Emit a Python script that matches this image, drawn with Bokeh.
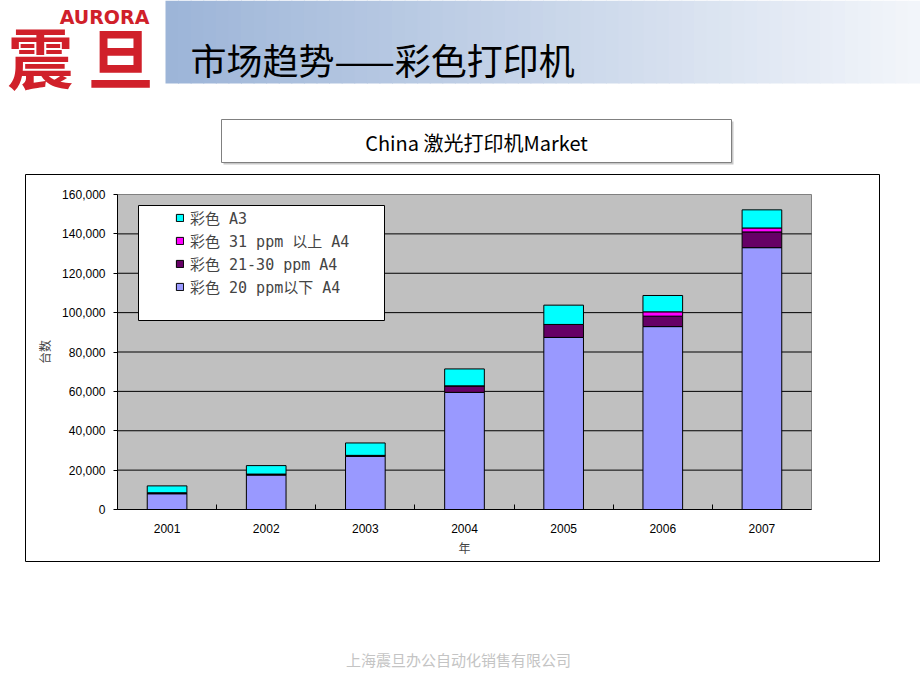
from bokeh.plotting import figure
from bokeh.models import (Range1d, Legend, LegendItem, LinearAxis, FixedTicker,
                          NumeralTickFormatter, ColumnDataSource)
from bokeh.core.properties import value
from bokeh.embed import file_html
from bokeh.resources import INLINE

# ---------------- data ----------------
years = ["2001", "2002", "2003", "2004", "2005", "2006", "2007"]
ppm20_below = [8000, 17500, 27000, 59500, 87400, 92900, 133000]
ppm21_30 = [500, 500, 500, 3300, 6600, 5300, 8000]
ppm31_up = [0, 0, 0, 0, 0, 2200, 2000]
color_a3 = [3500, 4300, 6300, 8600, 9800, 8300, 9200]
series_names = ["彩色 20 ppm以下 A4", "彩色 21-30 ppm A4", "彩色 31 ppm 以上 A4", "彩色 A3"]
series_colors = ["#9999ff", "#660066", "#ff00ff", "#00ffff"]
y_ticks = [0, 20000, 40000, 60000, 80000, 100000, 120000, 140000, 160000]

page_title = "市场趋势——彩色打印机"
chart_title = "China 激光打印机Market"
y_label = "台数"
x_label = "年"
footer = "上海震旦办公自动化销售有限公司"

# ---------------- layout (pixels) ----------------
W, H = 920, 690
PX_L, PX_R, PX_T, PX_B = 117, 811, 194, 509   # plot area in page pixels

n = len(years)
idx = list(range(n))
y_max = y_ticks[-1]
kx = (PX_R - PX_L) / n
ky = (PX_B - PX_T) / y_max

p = figure(width=W, height=H, x_range=Range1d(0, W), y_range=Range1d(H, 0),
           x_axis_location=None, y_axis_location=None, title_location=None,
           min_border=0, output_backend="svg", toolbar_location=None)
p.outline_line_color = None
p.background_fill_color = "white"
p.border_fill_color = "white"
p.grid.grid_line_color = None

p.extra_x_ranges = {"c": Range1d(-0.5 - PX_L / kx, n - 0.5 + (W - PX_R) / kx)}
p.extra_y_ranges = {"c": Range1d(-(H - PX_B) / ky, y_max + PX_T / ky)}
C = dict(x_range_name="c", y_range_name="c")

# ---------------- page decorations (pixel coordinates) ----------------
N = 60
x0, x1 = 165, W
c0, c1 = (157, 181, 216), (242, 245, 250)
lefts, rights, cols = [], [], []
for i in range(N):
    t = i / (N - 1)
    cols.append("#%02x%02x%02x" % tuple(int(round(a + (b - a) * t)) for a, b in zip(c0, c1)))
    lefts.append(x0 + (x1 - x0) * i / N)
    rights.append(x0 + (x1 - x0) * (i + 1) / N + 1)
p.quad(left=lefts, right=rights, top=0, bottom=83, fill_color=cols, line_color=None)

p.text(x=[104], y=[16], text=["AURORA"], text_align="center", text_baseline="middle",
       text_font=value("DejaVu Sans"), text_font_style="bold", text_font_size="19px",
       text_color="#d0202a")
p.text(x=[40, 120], y=[54, 54], text=["震", "旦"], text_align="center", text_baseline="middle",
       text_font=value("Noto Sans CJK SC"), text_font_style="bold", text_font_size="66px",
       text_color="#d0202a")
p.text(x=[190], y=[58], text=[page_title], text_align="left", text_baseline="middle",
       text_font=value("Noto Sans CJK SC"), text_font_size="36px", text_color="#000000")

# chart title box (with faint shadow)
p.quad(left=223, right=733, top=121, bottom=164, fill_color="#c8c8c8", line_color=None)
p.quad(left=221, right=731, top=119, bottom=162, fill_color="white", line_color="#808080")
p.text(x=[476], y=[142], text=[chart_title], text_align="center", text_baseline="middle",
       text_font=value("Noto Sans CJK SC"), text_font_size="20px", text_color="#000000")

# outer chart frame
p.quad(left=25, right=879, top=174, bottom=561, fill_alpha=0, line_color="#000000")

# footer
p.text(x=[458], y=[659], text=[footer], text_align="center", text_baseline="middle",
       text_font=value("Noto Sans CJK SC"), text_font_size="15px", text_color="#c4c4c4")

# ---------------- chart ----------------
p.quad(left=-0.5, right=n - 0.5, bottom=0, top=y_max, fill_color="#c0c0c0",
       line_color="#808080", **C)
p.segment(x0=-0.5, x1=n - 0.5, y0=y_ticks[1:-1], y1=y_ticks[1:-1], line_color="#000000",
          line_width=1, **C)

source = ColumnDataSource(dict(x=idx, s0=ppm20_below, s1=ppm21_30, s2=ppm31_up, s3=color_a3))
rs = p.vbar_stack(["s0", "s1", "s2", "s3"], x="x", width=0.4, source=source,
                  fill_color=series_colors, line_color="#000000", line_width=1, **C)

yax = LinearAxis(fixed_location=-0.5, bounds=(0, y_max),
                 ticker=FixedTicker(ticks=y_ticks, minor_ticks=[]),
                 formatter=NumeralTickFormatter(format="0,0"), **C)
xax = LinearAxis(fixed_location=0, bounds=(-0.5, n - 0.5),
                 ticker=FixedTicker(ticks=idx, minor_ticks=[i + 0.5 for i in range(n - 1)]),
                 major_label_overrides={i: y for i, y in enumerate(years)}, **C)
for ax in (yax, xax):
    ax.axis_line_color = "#000000"
    ax.major_label_text_font = "Liberation Sans"
    ax.major_label_text_font_size = "12px"
    ax.major_label_text_color = "#000000"
    ax.axis_label_text_font = "Noto Sans CJK SC"
    ax.axis_label_text_font_size = "12px"
    ax.axis_label_text_font_style = "normal"
yax.major_tick_in = 0
yax.major_tick_out = 4
yax.minor_tick_line_color = None
yax.major_label_standoff = 8
yax.axis_label = y_label
yax.axis_label_standoff = 6
xax.major_tick_line_color = None
xax.minor_tick_in = 5
xax.minor_tick_out = 0
xax.minor_tick_line_color = "#000000"
xax.major_label_standoff = 8
xax.axis_label = x_label
xax.axis_label_standoff = 3
p.add_layout(yax, "left")
p.add_layout(xax, "below")

# legend box + legend
p.quad(left=138, right=384, top=205, bottom=320, fill_color="white", line_color="#000000")
legend = Legend(items=[LegendItem(label=series_names[i], renderers=[rs[i]]) for i in [3, 2, 1, 0]],
                location=(175, H - 297), orientation="vertical", padding=0, margin=0,
                spacing=2, glyph_width=9, glyph_height=9, label_height=18, label_standoff=6,
                label_text_font="DejaVu Sans Mono, Noto Sans CJK SC", label_text_font_size="15px",
                border_line_color=None, background_fill_alpha=0)
p.add_layout(legend)

open("out.html", "w").write(file_html(p, INLINE, "chart"))
